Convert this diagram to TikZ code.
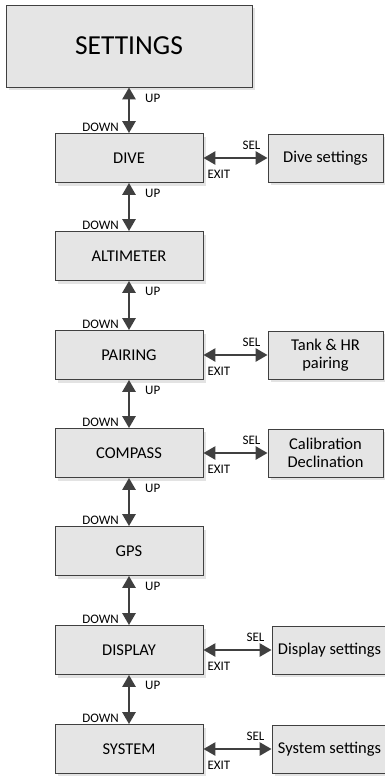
\documentclass[tikz,border=0pt]{standalone}
\usepackage{fontspec}
\setmainfont{Carlito}
\usetikzlibrary{arrows.meta,shadows}

\begin{document}
\begin{tikzpicture}[x=1pt,y=-1pt,
  menubox/.style={draw=black!75,fill=black!10,line width=0.8pt,
    drop shadow={shadow xshift=3pt,shadow yshift=-3pt,fill=black!11,opacity=1},
    font=\fontsize{16.5}{18}\selectfont,align=center,inner sep=2pt},
  leftbox/.style={menubox,minimum width=148pt,minimum height=49pt},
  subbox/.style={menubox,minimum width=115pt,minimum height=48pt},
  updown/.style={draw=black!75,line width=2.6pt,{Triangle[length=12pt,width=13pt]}-{Triangle[length=12pt,width=13pt]}},
  keylbl/.style={inner sep=0pt,font=\fontsize{13}{14}\selectfont}]
\path[use as bounding box] (0,0) rectangle (384,776);
% main menu column
\node[menubox,minimum width=246pt,minimum height=82pt,font=\fontsize{27.5}{30}\selectfont] (settings) at (129,46) {SETTINGS};
\node[leftbox] (dive) at (129,158) {DIVE};
\node[leftbox] (alti) at (129,256) {ALTIMETER};
\node[leftbox] (pairing) at (129,355) {PAIRING};
\node[leftbox] (compass) at (129,453) {COMPASS};
\node[leftbox] (gps) at (129,551) {GPS};
\node[leftbox] (display) at (129,650) {DISPLAY};
\node[leftbox] (system) at (129,749) {SYSTEM};
% sub menus
\node[subbox] (divesub) at (325.5,158) {Dive settings};
\node[subbox] (pairsub) at (325.5,355) {Tank \& HR\\pairing};
\node[subbox] (compsub) at (325.5,453) {Calibration\\Declination};
\node[subbox] (dispsub) at (329.5,650) {Display settings};
\node[subbox] (syssub) at (329.5,749) {System settings};
% UP / DOWN
\foreach \a/\b in {settings/dive,dive/alti,alti/pairing,pairing/compass,compass/gps,gps/display,display/system}{
  \draw[updown] (\a.south) -- (\b.north);
  \node[keylbl,anchor=west] at ([xshift=16pt,yshift=-10.5pt]\a.south) {UP};
  \node[keylbl,anchor=south east] at ([xshift=-10pt,yshift=1pt]\b.north) {DOWN};
}
% SEL / EXIT
\foreach \a/\b in {dive/divesub,pairing/pairsub,compass/compsub,display/dispsub,system/syssub}{
  \draw[updown] (\a.east) -- (\b.west);
  \node[keylbl,anchor=south east] at ([xshift=-7pt,yshift=8pt]\b.west) {SEL};
  \node[keylbl,anchor=north west] at ([xshift=4pt,yshift=-12pt]\a.east) {EXIT};
}
\end{tikzpicture}
\end{document}
